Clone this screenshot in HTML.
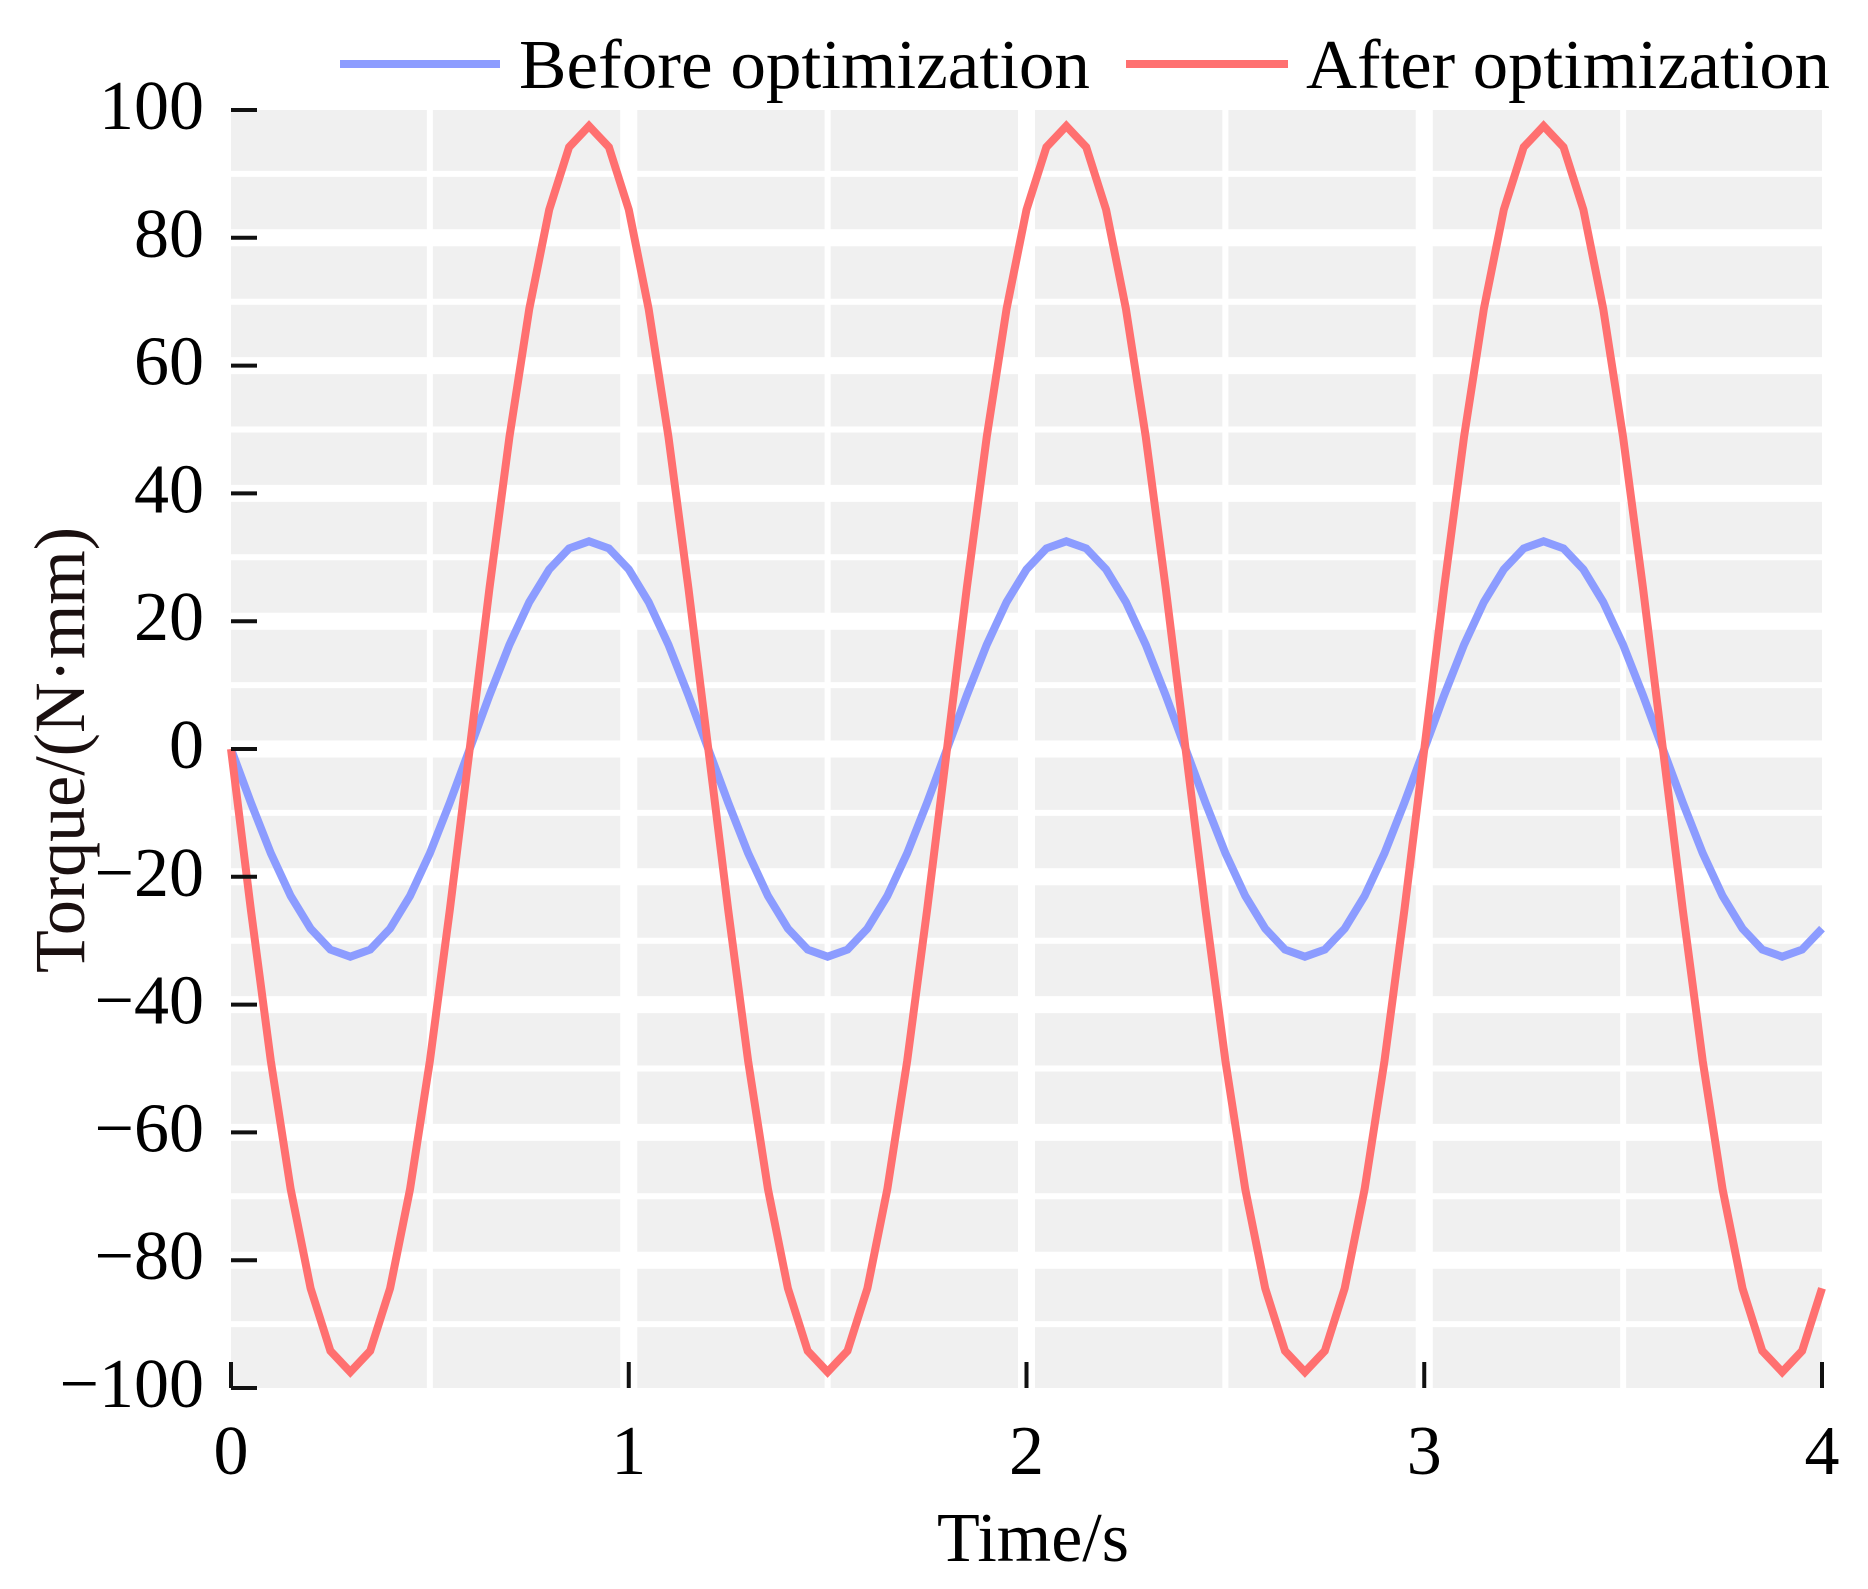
<!DOCTYPE html>
<html><head><meta charset="utf-8"><style>
html,body{margin:0;padding:0;background:#fff;}
svg{display:block;font-family:"Liberation Serif",serif;}
</style></head><body>
<svg id="chart" width="1868" height="1589" viewBox="0 0 1868 1589" xmlns="http://www.w3.org/2000/svg">
<rect x="231" y="110" width="1591" height="1278" fill="#f0f0f0"/>
<g id="grid"></g>
<g id="series"></g>
<g id="axes"></g>
<g>
<line x1="340" y1="64" x2="500" y2="64" stroke="#8c9cff" stroke-width="8"/>
<text x="519" y="88" font-size="70" textLength="571" lengthAdjust="spacingAndGlyphs">Before optimization</text>
<line x1="1126" y1="64" x2="1288" y2="64" stroke="#ff7070" stroke-width="8"/>
<text x="1306" y="88" font-size="70" textLength="524" lengthAdjust="spacingAndGlyphs">After optimization</text>
</g>
<text transform="translate(84,750) rotate(-90)" text-anchor="middle" font-size="72" fill="#1a1010" textLength="446" lengthAdjust="spacingAndGlyphs">Torque/(N·mm)</text>
<text x="1033" y="1561" text-anchor="middle" font-size="70">Time/s</text>
</svg>
<script>
const xTicks = [0, 1, 2, 3, 4];
const yTicks = [100, 80, 60, 40, 20, 0, -20, -40, -60, -80, -100];
const timeStep = 0.05;
const beforeValues = [
0,-8.4,-16.3,-23.0,-28.1,-31.4,-32.5,-31.4,-28.1,-23.0,-16.3,-8.4,0,8.4,16.3,23.0,28.1,31.4,32.5,31.4,28.1,23.0,16.3,8.4,
0,-8.4,-16.3,-23.0,-28.1,-31.4,-32.5,-31.4,-28.1,-23.0,-16.3,-8.4,0,8.4,16.3,23.0,28.1,31.4,32.5,31.4,28.1,23.0,16.3,8.4,
0,-8.4,-16.3,-23.0,-28.1,-31.4,-32.5,-31.4,-28.1,-23.0,-16.3,-8.4,0,8.4,16.3,23.0,28.1,31.4,32.5,31.4,28.1,23.0,16.3,8.4,
0,-8.4,-16.3,-23.0,-28.1,-31.4,-32.5,-31.4,-28.1];
const afterValues = [
0,-25.2,-48.8,-68.9,-84.4,-94.2,-97.5,-94.2,-84.4,-68.9,-48.8,-25.2,0,25.2,48.8,68.9,84.4,94.2,97.5,94.2,84.4,68.9,48.8,25.2,
0,-25.2,-48.8,-68.9,-84.4,-94.2,-97.5,-94.2,-84.4,-68.9,-48.8,-25.2,0,25.2,48.8,68.9,84.4,94.2,97.5,94.2,84.4,68.9,48.8,25.2,
0,-25.2,-48.8,-68.9,-84.4,-94.2,-97.5,-94.2,-84.4,-68.9,-48.8,-25.2,0,25.2,48.8,68.9,84.4,94.2,97.5,94.2,84.4,68.9,48.8,25.2,
0,-25.2,-48.8,-68.9,-84.4,-94.2,-97.5,-94.2,-84.4];

const NS = "http://www.w3.org/2000/svg";
const X0 = 231, X1 = 1822, Y0 = 1388, Y1 = 110;
function xs(t){ return X0 + (t - 0) / 4 * (X1 - X0); }
function ys(v){ return Y0 - (v + 100) / 200 * (Y0 - Y1); }
function mk(tag, attrs, parent){
  const el = document.createElementNS(NS, tag);
  for (const k in attrs) el.setAttribute(k, attrs[k]);
  parent.appendChild(el);
  return el;
}
const grid = document.getElementById('grid');
const axes = document.getElementById('axes');
const series = document.getElementById('series');

for (let v = -90; v <= 90; v += 10) {
  const major = v % 20 === 0;
  const l = mk('line', {x1: X0, x2: X1, y1: ys(v), y2: ys(v), stroke: '#fff', 'stroke-width': major ? 17 : 6}, grid);
  
  
}
for (let t = 0.5; t < 4; t += 0.5) {
  const major = Math.abs(t - Math.round(t)) < 1e-9;
  const l = mk('line', {x1: xs(t), x2: xs(t), y1: Y1, y2: Y0, stroke: '#fff', 'stroke-width': major ? 17 : 6}, grid);
  
  
}

function drawSeries(vals, color, name){
  const pts = vals.map((v, i) => xs(i * timeStep).toFixed(1) + ',' + ys(v).toFixed(1)).join(' ');
  const p = mk('polyline', {points: pts, fill: 'none', stroke: color, 'stroke-width': 8, 'stroke-linejoin': 'miter'}, series);
  
  
}
drawSeries(beforeValues, '#8c9cff', 'line-before-optimization');
drawSeries(afterValues, '#ff7070', 'line-after-optimization');

yTicks.forEach(v => {
  const y = ys(v);
  const tk = mk('line', {x1: X0, x2: X0 + 26, y1: y, y2: y, stroke: '#111', 'stroke-width': 4}, axes);
  
  
  const tx = mk('text', {x: 204, y: y + 19, 'text-anchor': 'end', 'font-size': 70}, axes);
  tx.textContent = v < 0 ? '\u2212' + Math.abs(v) : String(v);
  
  
});
xTicks.forEach(t => {
  const x = xs(t);
  const tk = mk('line', {x1: x, x2: x, y1: Y0 - 26, y2: Y0, stroke: '#111', 'stroke-width': 4}, axes);
  
  
  const tx = mk('text', {x: x, y: 1474, 'text-anchor': 'middle', 'font-size': 70}, axes);
  tx.textContent = String(t);
  
  
});
</script>
</body></html>
